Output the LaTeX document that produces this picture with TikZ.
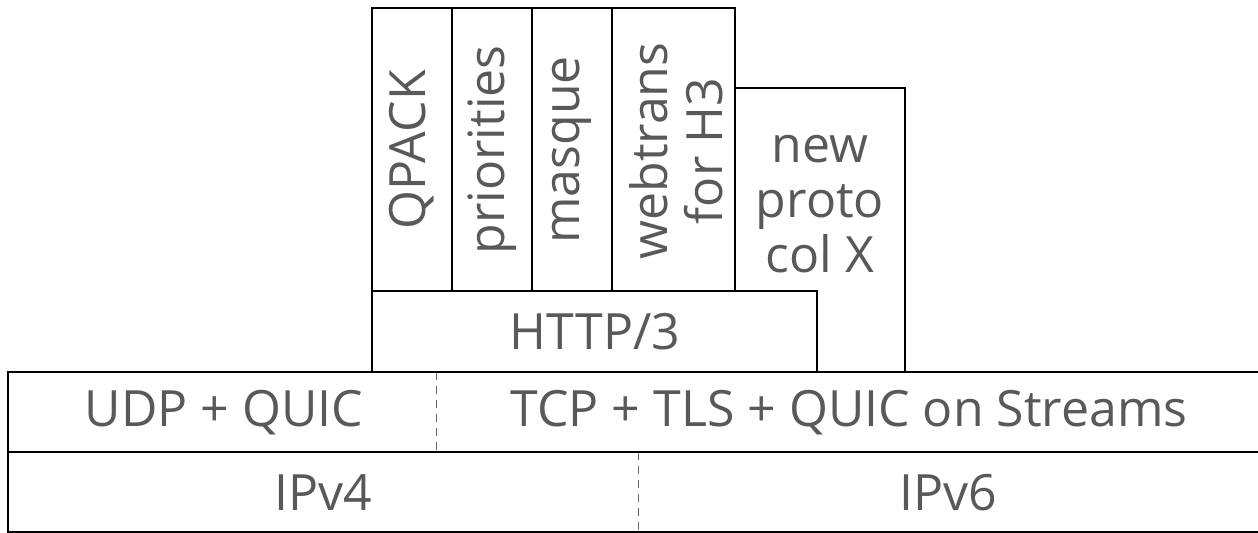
\documentclass[tikz,border=0pt]{standalone}
\usepackage{fontspec}
\setmainfont{Open Sans}
\begin{document}
\begin{tikzpicture}[x=0.5pt,y=-0.5pt,
  box/.style={draw=black,line width=1pt,fill=white},
  divider/.style={draw=black!60,line width=0.5pt,dash pattern=on 4pt off 3pt},
  lbl/.style={text=black!65,font=\fontsize{25}{27.5}\selectfont,inner sep=0pt,align=center}]
\useasboundingbox (0,0) rectangle (1258,532);
% bottom layer
\draw[box] (8,452) rectangle (1270,532);
\coordinate (d2t) at (638,452);
\coordinate (d2b) at (638,532);
\draw[divider] (d2t) -- (d2b);
\node[lbl] (ipv4) at (323,493) {IPv4};
\node[lbl] (ipv6) at (948,493) {IPv6};
% middle layer
\draw[box] (8,372) rectangle (1270,452);
\coordinate (d1t) at (436,372);
\coordinate (d1b) at (436,452);
\draw[divider] (d1t) -- (d1b);
\node[lbl] (udp) at (224,413) {UDP + QUIC};
\node[lbl] (tcp) at (849,413) {TCP + TLS + QUIC on Streams};
% new protocol X
\draw[box] (735,88) rectangle (905,372);
\node[lbl] (npx) at (820,204) {new\\proto\\col X};
% HTTP/3
\draw[box] (372,291) rectangle (817,372);
\node[lbl] (http) at (595,332) {HTTP/3};
% vertical boxes
\draw[box] (372,8) rectangle (452,291);
\draw[box] (452,8) rectangle (532,291);
\draw[box] (532,8) rectangle (612,291);
\draw[box] (612,8) rectangle (735,291);
\node[lbl,rotate=90] (qpack) at (412,150) {QPACK};
\node[lbl,rotate=90] (prio) at (492,150) {priorities};
\node[lbl,rotate=90] (masque) at (572,150) {masque};
\node[lbl,rotate=90] (webt) at (676,151) {webtrans\\for H3};
\end{tikzpicture}
\end{document}
